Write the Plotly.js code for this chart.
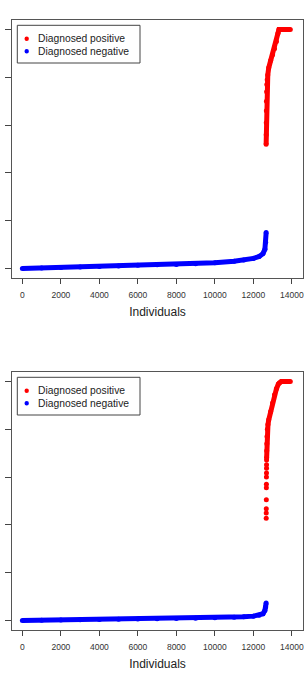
<!DOCTYPE html>
<html>
<head>
<meta charset="utf-8">
<script src="https://cdn.plot.ly/plotly-3.0.1.min.js"></script>
<style>html,body{margin:0;padding:0;background:#fff;}#chart{width:306px;height:675px;}</style>
</head>
<body>
<div id="chart"></div>
<script>
// ---- Data ----
var xTicks = [0, 2000, 4000, 6000, 8000, 10000, 12000, 14000];
var yTicks = [0, 0.2, 0.4, 0.6, 0.8, 1.0];
var xTitle = "Individuals";
var legendLabels = ["Diagnosed positive", "Diagnosed negative"];

// Panel 1 (top)
var neg1X = [0, 1000, 2000, 3000, 4000, 5000, 6000, 7000, 8000, 9000, 10000, 11000, 11500, 12000, 12300, 12500, 12600, 12640, 12665];
var neg1Y = [0.0, 0.002, 0.004, 0.006, 0.008, 0.010, 0.013, 0.015, 0.017, 0.020, 0.024, 0.030, 0.035, 0.042, 0.050, 0.062, 0.080, 0.110, 0.150];
var pos1X = [12665, 12668, 12672, 12676, 12680, 12690, 12700, 12720, 12750, 12800, 12900, 13000, 13100, 13200, 13280, 13330, 13400, 13600, 13800, 13920];
var pos1Y = [0.52, 0.56, 0.61, 0.66, 0.70, 0.74, 0.77, 0.79, 0.81, 0.84, 0.87, 0.895, 0.92, 0.95, 0.985, 1.0, 1.0, 1.0, 1.0, 1.0];

// Panel 2 (bottom)
var neg2X = [0, 1000, 2000, 3000, 4000, 5000, 6000, 7000, 8000, 9000, 10000, 11000, 11500, 12000, 12300, 12500, 12600, 12640, 12665];
var neg2Y = [0.0, 0.001, 0.002, 0.003, 0.004, 0.005, 0.006, 0.007, 0.008, 0.009, 0.011, 0.013, 0.015, 0.018, 0.022, 0.028, 0.042, 0.056, 0.073];
var pos2SparseX = [12668, 12670, 12672, 12674, 12676, 12678, 12680, 12682, 12684, 12686, 12688];
var pos2SparseY = [0.428, 0.45, 0.468, 0.505, 0.555, 0.57, 0.60, 0.617, 0.637, 0.652, 0.672];
var pos2X = [12690, 12695, 12700, 12710, 12730, 12760, 12800, 12900, 13000, 13100, 13200, 13300, 13360, 13450, 13600, 13800, 13920];
var pos2Y = [0.68, 0.71, 0.74, 0.77, 0.80, 0.82, 0.84, 0.875, 0.91, 0.945, 0.97, 0.99, 0.995, 1.0, 1.0, 1.0, 1.0];

// ---- Styling ----
var RED = "#ff0000", BLUE = "#0000ff";
var legendColors = [RED, BLUE];
var MS = 5, LW = 5;
var FONT = "Liberation Sans, Arial, sans-serif";
var W = 306, H = 675;

function lineTrace(x, y, c, xa, ya) {
  return {x: x, y: y, type: "scatter", mode: "lines", xaxis: xa, yaxis: ya,
          line: {color: c, width: LW}, showlegend: false, hoverinfo: "skip"};
}
function dotTrace(x, y, c, xa, ya, name) {
  return {x: x, y: y, type: "scatter", mode: "markers", xaxis: xa, yaxis: ya,
          marker: {color: c, size: MS}, name: name, showlegend: false};
}

var traces = [
  lineTrace(neg1X, neg1Y, BLUE, "x", "y"),
  lineTrace(pos1X, pos1Y, RED, "x", "y"),
  dotTrace(pos1X, pos1Y, RED, "x", "y", legendLabels[0]),
  dotTrace(neg1X, neg1Y, BLUE, "x", "y", legendLabels[1]),

  lineTrace(neg2X, neg2Y, BLUE, "x2", "y2"),
  lineTrace(pos2X, pos2Y, RED, "x2", "y2"),
  dotTrace(pos2X.concat(pos2SparseX), pos2Y.concat(pos2SparseY), RED, "x2", "y2", legendLabels[0]),
  dotTrace(neg2X, neg2Y, BLUE, "x2", "y2", legendLabels[1])
];

function xAxis(anchor) {
  return {
    anchor: anchor, domain: [12/W, 303/W], range: [-540, 14580],
    tickmode: "array", tickvals: xTicks, ticktext: xTicks.map(String),
    ticks: "outside", ticklen: 5, tickwidth: 1, tickcolor: "#444",
    tickfont: {family: FONT, size: 8.5, color: "#333"}, ticklabelstandoff: 4,
    showline: true, linecolor: "#555", linewidth: 1, mirror: true,
    showgrid: false, zeroline: false, automargin: false,
    title: {text: xTitle, font: {family: FONT, size: 12, color: "#222"}, standoff: 8}
  };
}
function yAxis(anchor, dom) {
  return {
    anchor: anchor, domain: dom, range: [-0.04, 1.04],
    tickmode: "array", tickvals: yTicks, showticklabels: false,
    ticks: "outside", ticklen: 6, tickwidth: 1, tickcolor: "#444",
    showline: true, linecolor: "#555", linewidth: 1, mirror: true,
    showgrid: false, zeroline: false, automargin: false
  };
}

// Hand-drawn legend boxes (R-style legend)
var shapes = [], annotations = [];
[0, 352].forEach(function (dy) {
  shapes.push({type: "rect", xref: "paper", yref: "paper",
    x0: 17.3/W, x1: 140/W, y0: 1 - (63 + dy)/H, y1: 1 - (25.3 + dy)/H,
    line: {color: "#444", width: 1}, fillcolor: "#fff", layer: "above"});
  legendLabels.forEach(function (lab, i) {
    var cy = 38.7 + dy + i * 12.6;
    shapes.push({type: "circle", xref: "paper", yref: "paper",
      x0: (26.7 - 2.2)/W, x1: (26.7 + 2.2)/W, y0: 1 - (cy + 2.2)/H, y1: 1 - (cy - 2.2)/H,
      line: {width: 0}, fillcolor: legendColors[i], layer: "above"});
    annotations.push({xref: "paper", yref: "paper", x: 36.3/W, y: 1 - cy/H,
      xanchor: "left", yanchor: "middle", showarrow: false, text: lab,
      font: {family: FONT, size: 10.3, color: "#222"}});
  });
});

var layout = {
  width: W, height: H,
  margin: {l: 0, r: 0, t: 0, b: 0},
  paper_bgcolor: "#fff", plot_bgcolor: "#fff",
  xaxis: xAxis("y"),
  yaxis: yAxis("x", [1 - 278/H, 1 - 20/H]),
  xaxis2: xAxis("y2"),
  yaxis2: yAxis("x2", [1 - 630/H, 1 - 372/H]),
  shapes: shapes, annotations: annotations,
  showlegend: false
};

Plotly.newPlot("chart", traces, layout, {displayModeBar: false, staticPlot: true});
</script>
</body>
</html>
